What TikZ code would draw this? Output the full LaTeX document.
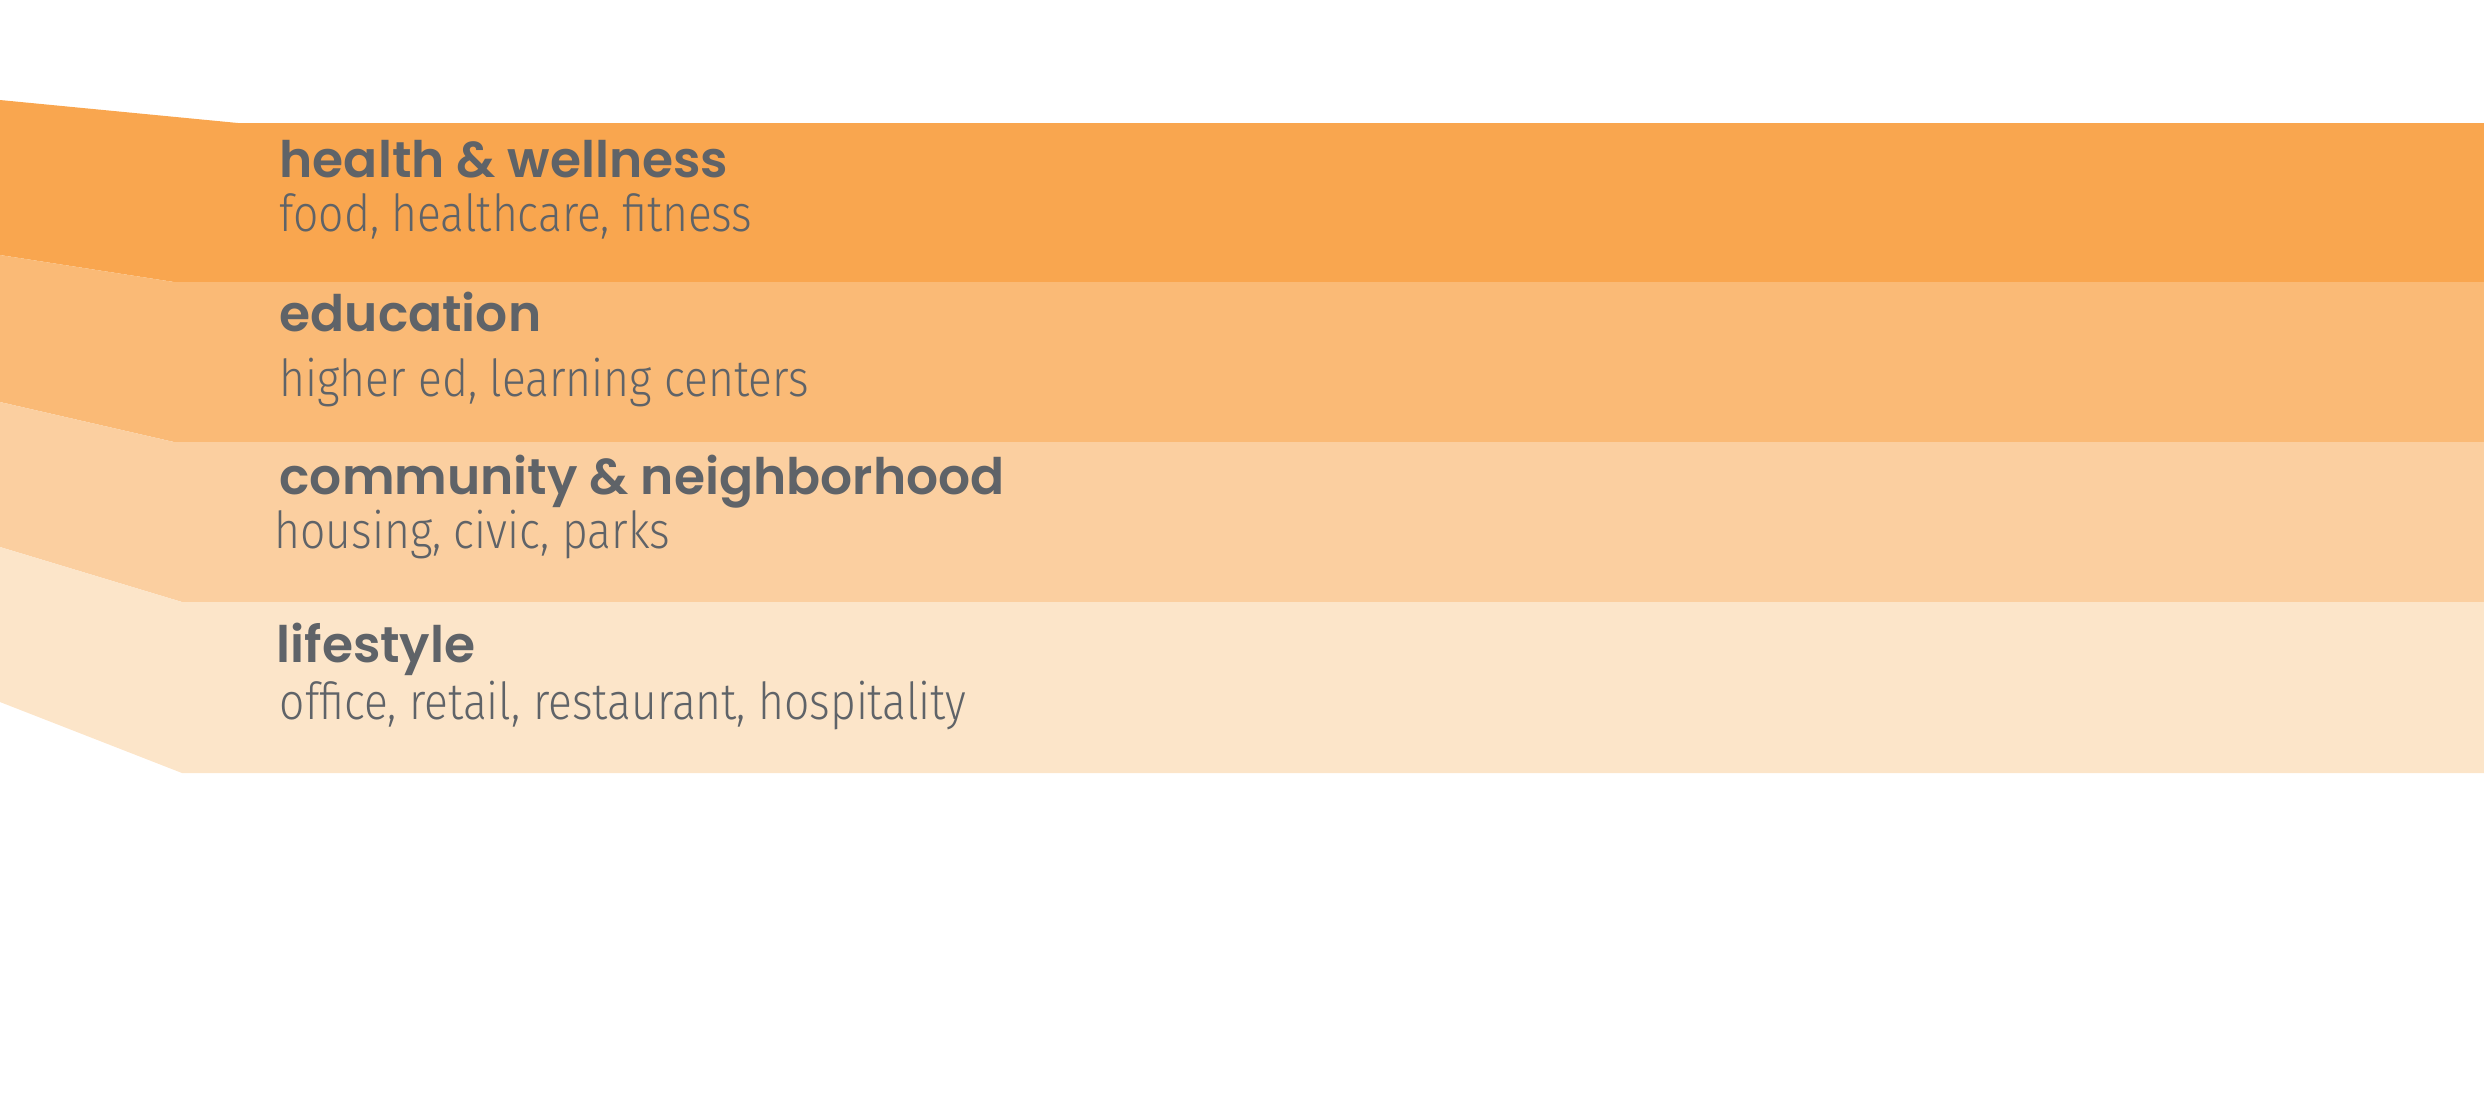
\documentclass[tikz,border=0pt]{standalone}
\usepackage{tikz}
\usepackage{fontspec}
\newfontfamily\headfont{Poppins}[UprightFont=* SemiBold]
\newfontfamily\subfont{Fira Sans}[UprightFont=* Light, FakeStretch=0.87]
\definecolor{bandone}{RGB}{249,166,79}
\definecolor{bandtwo}{RGB}{250,186,118}
\definecolor{bandthree}{RGB}{251,207,160}
\definecolor{bandfour}{RGB}{252,229,201}
\definecolor{textgray}{RGB}{95,99,104}

\begin{document}
\begin{tikzpicture}[x=0.01cm, y=-0.01cm,
    headtext/.style={anchor=base west, inner sep=0, text=textgray, font=\headfont\fontsize{14.3}{17}\selectfont},
    subtext/.style={anchor=base west, inner sep=0, text=textgray, font=\subfont\fontsize{14.5}{17}\selectfont}]

      \useasboundingbox (0,0) rectangle (2484,1117) ;

      \fill [bandone] (0,100) -- (238,123) -- (2484,123) -- (2484,282) -- (174,282) -- (0,255) -- cycle ;
      \fill [bandtwo] (0,255) -- (174,282) -- (2484,282) -- (2484,442) -- (174,442) -- (0,402) -- cycle ;
      \fill [bandthree] (0,402) -- (174,442) -- (2484,442) -- (2484,602) -- (182,602) -- (0,547) -- cycle ;
      \fill [bandfour] (0,547) -- (182,602) -- (2484,602) -- (2484,773) -- (182,773) -- (0,702) -- cycle ;

      \node [headtext] (health) at (279,177) {health \& wellness} ;
      \node [subtext] (healthsub) at (279,231) {food, healthcare, fitness} ;

      \node [headtext] (education) at (279,331) {education} ;
      \node [subtext] (educationsub) at (279,396) {higher ed, learning centers} ;

      \node [headtext] (community) at (279,494) {community \& neighborhood} ;
      \node [subtext] (communitysub) at (274,548) {housing, civic, parks} ;

      \node [headtext] (lifestyle) at (276,662) {lifestyle} ;
      \node [subtext] (lifestylesub) at (279,719) {office, retail, restaurant, hospitality} ;
    \end{tikzpicture}
\end{document}
